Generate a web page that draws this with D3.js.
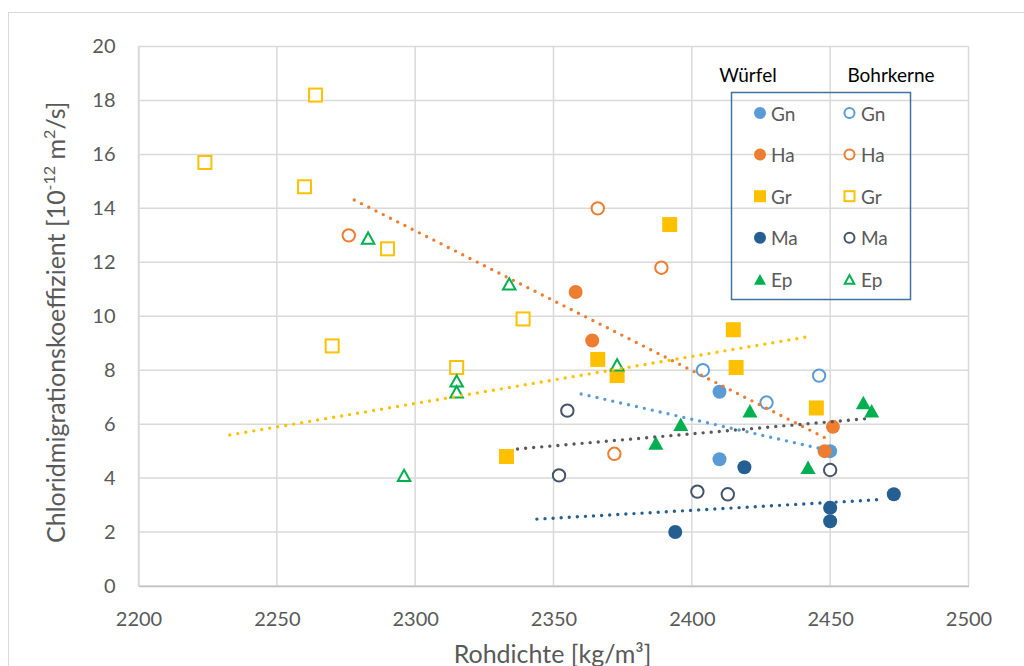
<!DOCTYPE html>
<html>
<head>
<meta charset="utf-8">
<script src="https://cdn.jsdelivr.net/npm/d3@7"></script>
<style>
  body { margin: 0; background: #fff; }
  svg { display: block; font-family: Lato, "Open Sans", sans-serif; }
</style>
</head>
<body>
<svg id="chart" width="1024" height="666"></svg>
<script>
// Rock groups and their styling
const groups = ["Gn", "Ha", "Gr", "Ma", "Ep"];
const fillColors = ["#5B9BD5", "#ED7D31", "#FFC000", "#255E91", "#00B050"];
const coreColors = ["#5B9BD5", "#ED7D31", "#FFC000", "#44546A", "#00B050"];
const shapes = ["circle", "circle", "square", "circle", "triangle"];

// Würfel (cubes): [Rohdichte kg/m³, Chloridmigrationskoeffizient 10^-12 m²/s]
const cubeGn = [[2410, 7.2], [2410, 4.7], [2450, 5.0]];
const cubeHa = [[2358, 10.9], [2364, 9.1], [2451, 5.9], [2448, 5.0]];
const cubeGr = [[2333, 4.8], [2392, 13.4], [2366, 8.4], [2373, 7.8], [2415, 9.5], [2416, 8.1], [2445, 6.6]];
const cubeMa = [[2419, 4.4], [2450, 2.9], [2450, 2.4], [2473, 3.4], [2394, 2.0]];
const cubeEp = [[2421, 6.5], [2442, 4.4], [2462, 6.8], [2465, 6.5], [2396, 6.0], [2387, 5.3]];

// Bohrkerne (drill cores)
const coreGn = [[2404, 8.0], [2446, 7.8], [2427, 6.8]];
const coreHa = [[2276, 13.0], [2366, 14.0], [2389, 11.8], [2372, 4.9]];
const coreGr = [[2224, 15.7], [2264, 18.2], [2260, 14.8], [2290, 12.5], [2270, 8.9], [2315, 8.1], [2339, 9.9]];
const coreMa = [[2355, 6.5], [2352, 4.1], [2402, 3.5], [2413, 3.4], [2450, 4.3]];
const coreEp = [[2283, 12.9], [2334, 11.2], [2315, 7.6], [2315, 7.2], [2296, 4.1], [2373, 8.2]];

// Linear trend lines (start and end point)
const trendOrange = [[2278, 14.31], [2449, 5.45]];
const trendYellow = [[2233, 5.6], [2442, 9.24]];
const trendLightBlue = [[2360, 7.12], [2447.5, 5.07]];
const trendGrey = [[2337, 5.08], [2465, 6.22]];
const trendDarkBlue = [[2344, 2.48], [2469.4, 3.21]];

const xTicks = [2200, 2250, 2300, 2350, 2400, 2450, 2500];
const yTicks = [0, 2, 4, 6, 8, 10, 12, 14, 16, 18, 20];

const cubeSeries = [cubeGn, cubeHa, cubeGr, cubeMa, cubeEp];
const coreSeries = [coreGn, coreHa, coreGr, coreMa, coreEp];
const trends = [
  { pts: trendOrange, color: "#ED7D31" },
  { pts: trendYellow, color: "#FFC000" },
  { pts: trendLightBlue, color: "#5B9BD5" },
  { pts: trendGrey, color: "#595959" },
  { pts: trendDarkBlue, color: "#255E91" }
];

const svg = d3.select("#chart");
const plot = { left: 138.5, right: 968.5, top: 46.5, bottom: 586 };

const x = d3.scaleLinear().domain([2200, 2500]).range([plot.left, plot.right]);
const y = d3.scaleLinear().domain([0, 20]).range([plot.bottom, plot.top]);

// outer chart frame
svg.append("rect")
  .attr("x", 8.5).attr("y", 12.5).attr("width", 1100).attr("height", 800)
  .attr("fill", "#fff").attr("stroke", "#d9d9d9").attr("stroke-width", 1);

// gridlines
const grid = svg.append("g");
grid.selectAll(".hg").data(yTicks).join("line")
  .attr("x1", plot.left).attr("x2", plot.right)
  .attr("y1", d => y(d)).attr("y2", d => y(d))
  .attr("stroke", "#d9d9d9").attr("stroke-width", 1.5);
grid.selectAll(".vg").data(xTicks).join("line")
  .attr("y1", plot.top).attr("y2", plot.bottom)
  .attr("x1", d => x(d)).attr("x2", d => x(d))
  .attr("stroke", "#d9d9d9").attr("stroke-width", 1.5);

// axes (labels only, lines come from the grid)
const xAxis = svg.append("g")
  .attr("transform", `translate(0,${plot.bottom})`)
  .call(d3.axisBottom(x).tickValues(xTicks).tickSize(0).tickPadding(25).tickFormat(d3.format("d")));
xAxis.select(".domain").attr("stroke", "#bfbfbf").attr("stroke-width", 1.5);
xAxis.selectAll("text").attr("font-size", 20).attr("fill", "#595959")
  .attr("font-family", "Lato, sans-serif").attr("dy", "0.35em").attr("y", 33);

const yAxis = svg.append("g")
  .attr("transform", `translate(${plot.left},0)`)
  .call(d3.axisLeft(y).tickValues(yTicks).tickSize(0).tickPadding(23).tickFormat(d3.format("d")));
yAxis.select(".domain").attr("stroke", "#d9d9d9").attr("stroke-width", 1.5);
yAxis.selectAll("text").attr("font-size", 20).attr("fill", "#595959")
  .attr("font-family", "Lato, sans-serif");

// axis titles
svg.append("text")
  .attr("x", (plot.left + plot.right) / 2 - 1).attr("y", 663)
  .attr("text-anchor", "middle").attr("font-size", 25).attr("fill", "#595959")
  .text("Rohdichte [kg/m³]");

const yTitle = svg.append("text")
  .attr("transform", `translate(65,${(plot.top + plot.bottom) / 2 + 6}) rotate(-90)`)
  .attr("text-anchor", "middle").attr("font-size", 25).attr("fill", "#595959");
yTitle.append("tspan").text("Chloridmigrationskoeffizient [10");
yTitle.append("tspan").attr("font-size", 16).attr("dy", -10).text("-12");
yTitle.append("tspan").attr("dy", 10).text(" m");
yTitle.append("tspan").attr("font-size", 16).attr("dy", -10).text("2");
yTitle.append("tspan").attr("dy", 10).text("/s]");

// marker drawing
function drawMarker(g, shape, cx, cy, size, color, hollow) {
  const sw = hollow ? 2 : 0;
  const fill = hollow ? "#fff" : color;
  if (shape === "circle") {
    g.append("circle").attr("cx", cx).attr("cy", cy)
      .attr("r", hollow ? size / 2 - 1 : size / 2)
      .attr("fill", fill).attr("stroke", hollow ? color : "none").attr("stroke-width", sw);
  } else if (shape === "square") {
    const s = hollow ? size - 2 : size;
    g.append("rect").attr("x", cx - s / 2).attr("y", cy - s / 2)
      .attr("width", s).attr("height", s)
      .attr("fill", fill).attr("stroke", hollow ? color : "none").attr("stroke-width", sw);
  } else {
    const w = hollow ? size - 2.5 : size, h = w * 0.9;
    const p = d3.path();
    p.moveTo(cx, cy - h / 2);
    p.lineTo(cx + w / 2, cy + h / 2);
    p.lineTo(cx - w / 2, cy + h / 2);
    p.closePath();
    g.append("path").attr("d", p.toString())
      .attr("fill", fill).attr("stroke", hollow ? color : "none")
      .attr("stroke-width", sw).attr("stroke-linejoin", "miter");
  }
}

const marks = svg.append("g");
cubeSeries.forEach((data, i) => {
  data.forEach(d => drawMarker(marks, shapes[i], x(d[0]), y(d[1]), shapes[i] === "circle" ? 14 : 15, fillColors[i], false));
});
coreSeries.forEach((data, i) => {
  data.forEach(d => drawMarker(marks, shapes[i], x(d[0]), y(d[1]), shapes[i] === "circle" ? 14.4 : 15, coreColors[i], true));
});

// dotted trend lines
const line = d3.line().x(d => x(d[0])).y(d => y(d[1]));
svg.append("g").selectAll("path").data(trends).join("path")
  .attr("d", d => line(d.pts))
  .attr("fill", "none").attr("stroke", d => d.color)
  .attr("stroke-width", 3.4).attr("stroke-linecap", "round")
  .attr("stroke-dasharray", "0 8.1");

// legend
const legend = svg.append("g");
legend.append("rect")
  .attr("x", 731.5).attr("y", 92.5).attr("width", 179).attr("height", 207)
  .attr("fill", "none").attr("stroke", "#44729E").attr("stroke-width", 1.5);
legend.append("text").attr("x", 748).attr("y", 74).attr("text-anchor", "middle")
  .attr("dominant-baseline", "central").attr("font-size", 19).attr("fill", "#000").text("Würfel");
legend.append("text").attr("x", 891).attr("y", 74).attr("text-anchor", "middle")
  .attr("dominant-baseline", "central").attr("font-size", 19).attr("fill", "#000").text("Bohrkerne");

groups.forEach((name, i) => {
  const ry = 113 + i * 41.6;
  drawMarker(legend, shapes[i], 760, ry, 12, fillColors[i], false);
  drawMarker(legend, shapes[i], 849.5, ry, 12, coreColors[i], true);
  legend.append("text").attr("x", 771).attr("y", ry).attr("dominant-baseline", "central")
    .attr("font-size", 19).attr("fill", "#595959").text(name);
  legend.append("text").attr("x", 861).attr("y", ry).attr("dominant-baseline", "central")
    .attr("font-size", 19).attr("fill", "#595959").text(name);
});
</script>
</body>
</html>
